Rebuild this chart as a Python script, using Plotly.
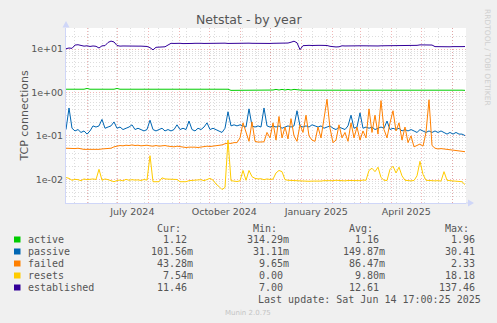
import pandas as pd
import plotly.graph_objects as go

# ---- data -----------------------------------------------------------------
START = pd.Timestamp("2024-05-10 17:00:25")
END = pd.Timestamp("2025-06-14 17:00:25")
STEP_DAYS = 3

active = (
    [1.19] * 7 + [1.24] + [1.19] * 9 + [1.24] + [1.19] * 18 + [1.23] + [1.19] * 18
    + [1.12] * 14
    + [1.14, 1.18, 1.14, 1.18, 1.14, 1.18, 1.14, 1.18, 1.14, 1.14]
    + [1.13] * 16 + [1.17] + [1.13] * 37 + [1.12]
)

passive = [
    0.14, 0.44, 0.15, 0.13, 0.14, 0.12, 0.13, 0.11, 0.13, 0.17,
    0.16, 0.17, 0.24, 0.15, 0.16, 0.17, 0.21, 0.15, 0.16, 0.14,
    0.15, 0.16, 0.18, 0.14, 0.15, 0.14, 0.13, 0.14, 0.23, 0.14,
    0.13, 0.14, 0.15, 0.13, 0.14, 0.13, 0.14, 0.18, 0.14, 0.15,
    0.14, 0.22, 0.14, 0.13, 0.15, 0.14, 0.16, 0.20, 0.14, 0.15,
    0.14, 0.13, 0.12, 0.15, 0.36, 0.17, 0.18, 0.17, 0.18, 0.17,
    0.16, 0.42, 0.17, 0.16, 0.17, 0.16, 0.44, 0.17, 0.16, 0.17,
    0.16, 0.17, 0.15, 0.16, 0.17, 0.16, 0.17, 0.38, 0.17, 0.16,
    0.17, 0.16, 0.18, 0.17, 0.16, 0.17, 0.15, 0.16, 0.17, 0.15,
    0.14, 0.16, 0.15, 0.14, 0.17, 0.30, 0.15, 0.16, 0.34, 0.15,
    0.16, 0.15, 0.16, 0.14, 0.15, 0.16, 0.15, 0.22, 0.14, 0.15,
    0.14, 0.15, 0.13, 0.14, 0.13, 0.14, 0.13, 0.12, 0.14, 0.13,
    0.12, 0.13, 0.12, 0.13, 0.12, 0.13, 0.12, 0.11, 0.12, 0.11,
    0.12, 0.11, 0.11, 0.10156,
]

failed = [
    0.052, 0.051, 0.052, 0.051, 0.052, 0.050, 0.049, 0.049, 0.049, 0.049,
    0.048, 0.049, 0.050, 0.050, 0.051, 0.052, 0.056, 0.058, 0.060, 0.059,
    0.061, 0.060, 0.062, 0.060, 0.061, 0.059, 0.060, 0.061, 0.059, 0.058,
    0.060, 0.058, 0.059, 0.060, 0.058, 0.057, 0.056, 0.058, 0.056, 0.055,
    0.054, 0.055, 0.056, 0.055, 0.054, 0.056, 0.057, 0.058, 0.057, 0.058,
    0.059, 0.060, 0.062, 0.066, 0.068, 0.067, 0.070, 0.070, 0.090, 0.200,
    0.120, 0.075, 0.210, 0.075, 0.072, 0.072, 0.073, 0.120, 0.090, 0.200,
    0.080, 0.280, 0.090, 0.160, 0.085, 0.250, 0.100, 0.075, 0.180, 0.120,
    0.300, 0.100, 0.080, 0.075, 0.160, 0.090, 0.250, 0.700, 0.150, 0.070,
    0.080, 0.180, 0.090, 0.120, 0.075, 0.200, 0.090, 0.160, 0.080, 0.130,
    0.090, 0.420, 0.120, 0.300, 0.110, 0.650, 0.140, 0.090, 0.200, 0.380,
    0.130, 0.200, 0.080, 0.160, 0.070, 0.100, 0.056, 0.060, 0.065, 0.058,
    0.120, 0.680, 0.060, 0.052, 0.050, 0.051, 0.050, 0.049, 0.048, 0.047,
    0.046, 0.045, 0.044, 0.04328,
]

resets = [
    0.0110, 0.0105, 0.0095, 0.0100, 0.0098, 0.0093, 0.0102, 0.0098, 0.0100, 0.0102,
    0.0099, 0.0170, 0.0095, 0.0102, 0.0098, 0.0092, 0.0088, 0.0094, 0.0096, 0.0092,
    0.0100, 0.0095, 0.0098, 0.0096, 0.0097, 0.0094, 0.0099, 0.0096, 0.0350, 0.0088,
    0.0087, 0.0088, 0.0108, 0.0102, 0.0101, 0.0100, 0.0102, 0.0099, 0.0088, 0.0087,
    0.0088, 0.0093, 0.0094, 0.0097, 0.0095, 0.0098, 0.0093, 0.0099, 0.0105, 0.0096,
    0.0078, 0.0068, 0.0058, 0.0065, 0.0800, 0.0093, 0.0092, 0.0089, 0.0092, 0.0160,
    0.0095, 0.0160, 0.0115, 0.0105, 0.0102, 0.0103, 0.0098, 0.0102, 0.0099, 0.0101,
    0.0140, 0.0160, 0.0150, 0.0098, 0.0095, 0.0094, 0.0093, 0.0092, 0.0094, 0.0091,
    0.0092, 0.0090, 0.0091, 0.0090, 0.0092, 0.0091, 0.0093, 0.0092, 0.0094, 0.0093,
    0.0095, 0.0093, 0.0094, 0.0092, 0.0094, 0.0093, 0.0095, 0.0094, 0.0093, 0.0096,
    0.0095, 0.0160, 0.0180, 0.0150, 0.0190, 0.0110, 0.0095, 0.0094, 0.0170, 0.0200,
    0.0140, 0.0190, 0.0120, 0.0095, 0.0093, 0.0092, 0.0094, 0.0120, 0.0260, 0.0130,
    0.0095, 0.0093, 0.0094, 0.0092, 0.0093, 0.0091, 0.0150, 0.0095, 0.0093, 0.0092,
    0.0090, 0.0091, 0.0088, 0.00754,
]

established = [
    10.2, 10.6, 10.4, 12.4, 12.6, 12.3, 11.7, 11.9, 11.5, 11.8,
    11.6, 10.6, 11.9, 12.0, 14.2, 15.3, 14.6, 12.1, 11.7, 11.8,
    11.7, 11.7, 11.8, 11.6, 11.7, 11.7, 11.6, 11.5, 10.8, 9.6,
    11.0, 11.2, 11.3, 11.3, 12.4, 13.6, 13.5, 13.7, 13.6, 13.4,
    13.6, 13.7, 13.5, 13.6, 13.8, 13.6, 13.5, 13.6, 13.7, 13.6,
    13.5, 13.6, 13.6, 13.7, 13.5, 13.6, 13.6, 13.4, 13.6, 13.5,
    13.6, 13.7, 13.6, 13.5, 13.6, 13.6, 13.4, 13.6, 13.5, 13.6,
    13.6, 13.5, 13.7, 13.6, 13.8, 14.4, 15.2, 14.0, 9.7, 12.0,
    12.3, 12.2, 12.1, 12.3, 12.2, 12.2, 12.3, 12.1, 11.6, 11.2,
    11.2, 11.3, 11.9, 11.8, 11.9, 11.9, 12.0, 11.8, 11.9, 11.9,
    11.8, 11.9, 12.0, 11.9, 11.8, 11.9, 11.9, 11.8, 11.9, 12.0,
    11.9, 11.8, 11.9, 11.9, 11.8, 11.9, 12.0, 12.2, 12.5, 12.4,
    12.6, 12.5, 12.4, 11.4, 11.3, 11.3, 11.4, 11.3, 11.3, 11.4,
    11.3, 11.3, 11.4, 11.46,
]

series_names = ["active", "passive", "failed", "resets", "established"]
series_colors = ["#00CC00", "#0066B3", "#FF8000", "#FFCC00", "#330099"]
series_values = [active, passive, failed, resets, established]

stat_cur = ["1.12", "101.56m", "43.28m", "7.54m", "11.46"]
stat_min = ["314.29m", "31.11m", "9.65m", "0.00", "7.00"]
stat_avg = ["1.16", "149.87m", "86.47m", "9.80m", "12.61"]
stat_max = ["1.96", "30.41", "2.33", "18.18", "137.46"]

y_tick_vals = [0.01, 0.1, 1, 10]
y_tick_text = ["1e-02", "1e-01", "1e+00", "1e+01"]
x_label_months = {"2024-07": "July 2024", "2024-10": "October 2024",
                  "2025-01": "January 2025", "2025-04": "April 2025"}

# ---- geometry (pixels) ----------------------------------------------------
W, H = 497, 323
PL, PR, PT, PB = 66, 466, 28, 203
FG = "#555555"
MONO = "DejaVu Sans Mono"
SANS = "DejaVu Sans"


def px(x):
    return (x - PL) / (PR - PL)


def py(y):
    return (PB - y) / (PB - PT)


dates = [START + pd.Timedelta(days=STEP_DAYS * k) for k in range(len(passive))]

fig = go.Figure()
for name, color, vals in zip(series_names, series_colors, series_values):
    fig.add_trace(go.Scatter(
        x=dates, y=vals, mode="lines", name=name,
        line=dict(color=color, width=1), showlegend=False,
        hoverinfo="skip",
    ))

# month gridlines and quarter labels
month_starts = pd.date_range("2024-06-01", "2025-06-01", freq="MS")
month_text = [x_label_months.get(d.strftime("%Y-%m"), "") for d in month_starts]
minor_ticks = pd.date_range("2024-05-19", END, freq="14D")

major_grid = "rgba(228,110,110,0.5)"
minor_grid = "rgba(165,165,165,0.38)"

fig.update_xaxes(
    type="date", range=[START, END],
    tickmode="array", tickvals=list(month_starts), ticktext=month_text,
    ticklabelshift=15, ticks="", showgrid=True, gridcolor=major_grid,
    griddash="1px,2px", gridwidth=1,
    minor=dict(tickmode="array", tickvals=list(minor_ticks), showgrid=True,
               gridcolor=minor_grid, griddash="1px,2px", gridwidth=1, ticks=""),
    showline=True, linecolor="#CFD6F8", linewidth=1, zeroline=False,
    tickfont=dict(family=SANS, size=9.5, color=FG), automargin=False,
    fixedrange=True,
)

y_minor = [m * 10 ** e for e in range(-3, 2) for m in range(2, 10)]
fig.update_yaxes(
    type="log", range=[-2.546, 1.486],
    tickmode="array", tickvals=y_tick_vals, ticktext=y_tick_text, ticks="",
    showgrid=True, gridcolor=major_grid, griddash="1px,2px", gridwidth=1,
    minor=dict(tickmode="array", tickvals=y_minor, showgrid=True,
               gridcolor=minor_grid, griddash="1px,2px", gridwidth=1, ticks=""),
    showline=True, linecolor="#CFD6F8", linewidth=1, zeroline=False,
    tickfont=dict(family=SANS, size=9.5, color=FG), automargin=False,
    fixedrange=True,
    title=dict(text="TCP connections", font=dict(family=SANS, size=11, color=FG),
               standoff=0),
)

annotations = []
shapes = []


def text(x, y, s, size=10, color=FG, family=MONO, xanchor="left", angle=0):
    annotations.append(dict(
        x=px(x), y=py(y), xref="paper", yref="paper", text=s, showarrow=False,
        xanchor=xanchor, yanchor="middle", textangle=angle,
        font=dict(family=family, size=size, color=color),
    ))


# title and side credits
text(248.5, 19, "Netstat - by year", size=12.5, family=SANS, xanchor="center")
text(488, 57, "RRDTOOL / TOBI OETIKER", size=7.5, family=SANS,
     color="#CFCFCF", xanchor="center", angle=90)
text(248, 312.5, "Munin 2.0.75", size=7, family=SANS, color="#C4C4C4",
     xanchor="center")

# legend table
col_right = [194.5, 290.5, 386.5, 482.5]
headers = ["Cur:", "Min:", "Avg:", "Max:"]
for xr, hdr in zip(col_right, headers):
    text(xr - 12, 228.3, hdr, xanchor="right")

row_y = [239.5, 251.5, 263.5, 275.5, 287.5]
for i, name in enumerate(series_names):
    y = row_y[i]
    shapes.append(dict(type="rect", xref="paper", yref="paper",
                       x0=px(14), x1=px(20.5), y0=py(y + 3), y1=py(y - 3),
                       fillcolor=series_colors[i], line=dict(width=0)))
    text(26, y, name)
    for xr, col in zip(col_right, [stat_cur, stat_min, stat_avg, stat_max]):
        v = col[i]
        if not v.endswith("m"):
            v = v + "\u00a0"
        text(xr, y, v, xanchor="right")

text(482.5, 299.5, "Last update: Sat Jun 14 17:00:25 2025", xanchor="right")

# axis arrows
ax_col = "#CFD6F8"
shapes.append(dict(type="path", xref="paper", yref="paper",
                   path=f"M {px(62.5)} {py(27.5)} L {px(66)} {py(21)} L {px(69.5)} {py(27.5)} Z",
                   fillcolor=ax_col, line=dict(width=0)))
shapes.append(dict(type="line", xref="paper", yref="paper",
                   x0=px(466), x1=px(469), y0=py(203), y1=py(203),
                   line=dict(color=ax_col, width=1)))
shapes.append(dict(type="path", xref="paper", yref="paper",
                   path=f"M {px(468)} {py(199.5)} L {px(474)} {py(203)} L {px(468)} {py(206.5)} Z",
                   fillcolor=ax_col, line=dict(width=0)))

fig.update_layout(
    width=W, height=H, autosize=False,
    margin=dict(l=PL, r=W - PR, t=PT, b=H - PB, pad=0),
    paper_bgcolor="#F0F0F0", plot_bgcolor="#FFFFFF",
    annotations=annotations, shapes=shapes, showlegend=False,
)

fig.write_html("out.html")
